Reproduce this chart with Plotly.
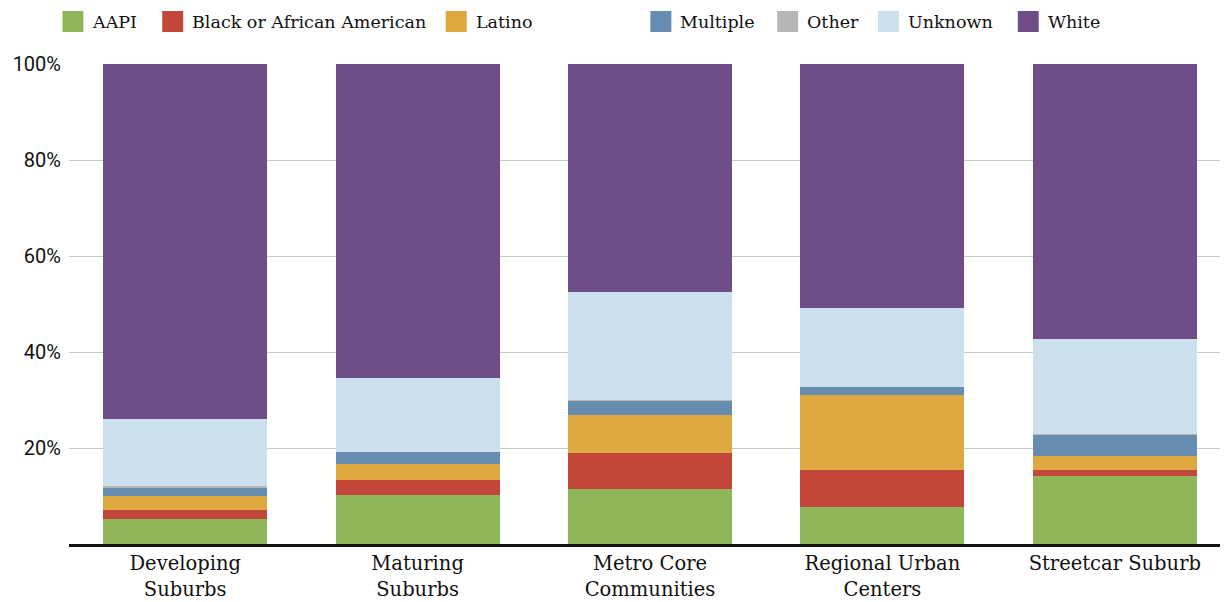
import plotly.graph_objects as go

categories = ["Developing<br>Suburbs", "Maturing<br>Suburbs", "Metro Core<br>Communities",
              "Regional Urban<br>Centers", "Streetcar Suburb"]

aapi     = [5.2, 10.2, 11.4, 7.8, 14.1]
black    = [1.8, 3.2, 7.5, 7.7, 1.4]
latino   = [2.9, 3.2, 7.9, 15.6, 2.9]
multiple = [1.9, 2.5, 3.1, 1.7, 4.4]
other    = [0.2, 0.0, 0.2, 0.0, 0.2]
unknown  = [14.1, 15.4, 22.3, 16.3, 19.8]
white    = [73.9, 65.5, 47.6, 50.9, 57.2]

series_names = ["AAPI", "Black or African American", "Latino", "Multiple", "Other", "Unknown", "White"]
series_values = [aapi, black, latino, multiple, other, unknown, white]
colors = ["#8FB65A", "#C3463A", "#DEA940", "#668DB0", "#B7B6B5", "#CCE0EE", "#6F4D89"]

y_ticks = [0, 20, 40, 60, 80, 100]
y_tick_labels = ["", "20%", "40%", "60%", "80%", "100%"]

fig = go.Figure()
for name, vals, col in zip(series_names, series_values, colors):
    fig.add_trace(go.Bar(x=categories, y=vals, name=name, marker=dict(color=col, line=dict(width=0)),
                         showlegend=False))

# page offset compensation
OFFX, OFFY = 9.5, 7
W, H = 1228, 602
pw, ph = 1164, 480
L = 68.6 - OFFX
T = 63 - OFFY
R = W - L - pw
B = H - T - ph

def px2paper_x(px):
    return (px - OFFX - L) / pw

def px2paper_y(py):
    return (T + ph - (py - OFFY)) / ph

legend_box_x = [62, 162, 446, 651, 778, 879, 1019]
shapes = []
annotations = []
for name, col, bx in zip(series_names, colors, legend_box_x):
    shapes.append(dict(type="rect", xref="paper", yref="paper",
                       x0=px2paper_x(bx), x1=px2paper_x(bx + 21),
                       y0=px2paper_y(31), y1=px2paper_y(10),
                       fillcolor=col, line=dict(width=0)))
    annotations.append(dict(xref="paper", yref="paper", x=px2paper_x(bx + 28), y=px2paper_y(21),
                            text=name, showarrow=False, xanchor="left", yanchor="middle",
                            font=dict(family="DejaVu Serif", size=17.5, color="#111111")))

fig.update_layout(
    width=W, height=H,
    barmode="stack", bargap=0.295,
    margin=dict(l=L, r=R, t=T, b=B, pad=0),
    plot_bgcolor="white", paper_bgcolor="white",
    shapes=shapes, annotations=annotations,
    xaxis=dict(showline=True, linecolor="#111111", linewidth=2.5, ticks="",
               tickfont=dict(family="DejaVu Serif", size=19.5, color="#111111"),
               showgrid=False),
    yaxis=dict(range=[0, 100], tickvals=y_ticks, ticktext=y_tick_labels,
               showgrid=True, gridcolor="#C8CCCC", gridwidth=1.3, zeroline=False,
               tickfont=dict(family="Roboto", size=20, color="#111111"), ticks="",
               ticklabelstandoff=7),
)

fig.write_html("out.html")
